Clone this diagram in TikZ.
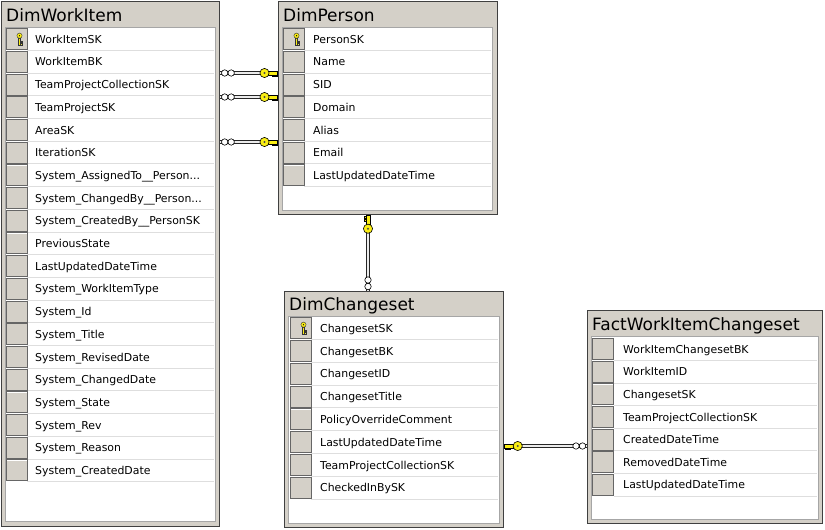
\documentclass[tikz,border=0pt]{standalone}
\usepackage{fontspec}
\setmainfont{DejaVu Sans}
\usepackage{tikz}
\definecolor{winGray}{RGB}{212,208,200}
\definecolor{keyYellow}{RGB}{250,238,20}
\definecolor{sepGray}{RGB}{222,222,222}
\newcommand{\titlefont}{\fontsize{17}{20}\selectfont}
\newcommand{\fieldfont}{\fontsize{10.9}{13}\selectfont}
\tikzset{
  tblframe/.style={rectangle, anchor=north west, inner sep=0pt,
                   draw=black!75, line width=1.2pt, fill=winGray},
  tblbody/.style={rectangle, anchor=north west, inner sep=0pt,
                  draw=gray!70, line width=0.6pt, fill=white},
  tbltitle/.style={anchor=base west, inner sep=0pt, font=\titlefont},
  rowbtn/.style={rectangle, inner sep=0pt, minimum width=21pt, minimum height=21pt,
                 draw=black!60, line width=0.7pt, fill=winGray,
                 path picture={\draw[white, line width=1.6pt]
                   (path picture bounding box.south west) |- (path picture bounding box.north east);}},
  rowtext/.style={anchor=base west, inner sep=0pt, font=\fieldfont},
  rowsep/.style={sepGray, line width=0.8pt},
  relline/.style={draw=black!85, line width=0.8pt, double=gray!15, double distance=2.2pt},
  manyend/.pic={
    \draw[fill=white, line width=0.6pt] (4.5,0) circle[radius=3.2] (11,0) circle[radius=3.2];
  },
  keyend/.pic={
    \filldraw[fill=keyYellow, line width=0.5pt] (0.5,-2) rectangle (9.5,2);
    \filldraw[fill=keyYellow, line width=0.5pt] (1.2,2) rectangle (2.7,3.7) (4.2,2) rectangle (5.7,3.3);
    \filldraw[fill=keyYellow, line width=0.6pt] (13.5,0) circle[radius=4.6];
    \fill[black!70] (13.5,0) circle[radius=1.1];
  },
  pkkey/.pic={
    \filldraw[fill=keyYellow, draw=black!80, line width=0.4pt] (-0.9,-1) rectangle (0.9,6);
    \filldraw[fill=keyYellow, draw=black!80, line width=0.4pt] (0.9,2.4) rectangle (2.4,3.6) (0.9,4.6) rectangle (2.2,5.8);
    \filldraw[fill=keyYellow, draw=black!80, line width=0.4pt] (0,-3.3) circle[radius=2.6];
    \fill[black] (0,-3.3) circle[radius=0.7];
  },
}

\begin{document}
\begin{tikzpicture}[x=1pt, y=-1pt]
  \useasboundingbox (0,0) rectangle (825,530);

  % DimWorkItem
  \node[tblframe, minimum width=218, minimum height=525] (workitem) at (1,1) {};
  \node[tblbody, minimum width=210, minimum height=494] (workitem-body) at (5,27) {};
  \node[tbltitle] (workitem-title) at (6,21.7) {DimWorkItem};
  \foreach \f [count=\i from 0] in {WorkItemSK, WorkItemBK, TeamProjectCollectionSK,
      TeamProjectSK, AreaSK, IterationSK, System\_AssignedTo\_\_Person.{}.{}.,
      System\_ChangedBy\_\_Person.{}.{}., System\_CreatedBy\_\_PersonSK, PreviousState,
      LastUpdatedDateTime, System\_WorkItemType, System\_Id, System\_Title,
      System\_RevisedDate, System\_ChangedDate, System\_State, System\_Rev,
      System\_Reason, System\_CreatedDate} {
    \draw[rowsep] (27,50.3+22.7*\i) -- (214,50.3+22.7*\i);
    \node[rowbtn] (wi-btn-\i) at (16.5,39+22.7*\i) {};
    \node[rowtext] (wi-\i) at (35,43.2+22.7*\i) {\f};
  }
  \pic at ([xshift=3pt]wi-btn-0.center) {pkkey};

  % DimPerson
  \node[tblframe, minimum width=219, minimum height=213] (person) at (278,1) {};
  \node[tblbody, minimum width=210, minimum height=183] (person-body) at (282,27) {};
  \node[tbltitle] (person-title) at (283,21.7) {DimPerson};
  \foreach \f [count=\i from 0] in {PersonSK, Name, SID, Domain, Alias, Email,
      LastUpdatedDateTime} {
    \draw[rowsep] (304,50.3+22.7*\i) -- (491,50.3+22.7*\i);
    \node[rowbtn] (pe-btn-\i) at (293.5,39+22.7*\i) {};
    \node[rowtext] (pe-\i) at (313,43.2+22.7*\i) {\f};
  }
  \pic at ([xshift=3pt]pe-btn-0.center) {pkkey};

  % DimChangeset
  \node[tblframe, minimum width=219, minimum height=236] (changeset) at (284,291) {};
  \node[tblbody, minimum width=211, minimum height=207] (changeset-body) at (288,316) {};
  \node[tbltitle] (changeset-title) at (289,310.5) {DimChangeset};
  \foreach \f [count=\i from 0] in {ChangesetSK, ChangesetBK, ChangesetID, ChangesetTitle,
      PolicyOverrideComment, LastUpdatedDateTime, TeamProjectCollectionSK,
      CheckedInBySK} {
    \draw[rowsep] (311,339.3+22.8*\i) -- (498,339.3+22.8*\i);
    \node[rowbtn] (cs-btn-\i) at (300.5,328+22.8*\i) {};
    \node[rowtext] (cs-\i) at (320,332.2+22.8*\i) {\f};
  }
  \pic at ([xshift=3pt]cs-btn-0.center) {pkkey};

  % FactWorkItemChangeset
  \node[tblframe, minimum width=235, minimum height=213] (fact) at (587,310) {};
  \node[tblbody, minimum width=227, minimum height=183] (fact-body) at (591,336) {};
  \node[tbltitle] (fact-title) at (592,330.5) {FactWorkItemChangeset};
  \foreach \f [count=\i from 0] in {WorkItemChangesetBK, WorkItemID, ChangesetSK,
      TeamProjectCollectionSK, CreatedDateTime, RemovedDateTime,
      LastUpdatedDateTime} {
    \draw[rowsep] (614,360.3+22.6*\i) -- (817,360.3+22.6*\i);
    \node[rowbtn] (fw-btn-\i) at (603,349+22.6*\i) {};
    \node[rowtext] (fw-\i) at (623,353.2+22.6*\i) {\f};
  }

  % relationships
  \foreach \y in {73,97,142} {
    \draw[relline] (workitem.east |- 0,\y) -- (person.west |- 0,\y);
    \pic at (workitem.east |- 0,\y) {manyend};
    \pic[xscale=-1] at (person.west |- 0,\y) {keyend};
  }
  \draw[relline] (person.south -| 368,0) -- (changeset.north -| 368,0);
  \pic[rotate=-90] at (person.south -| 368,0) {keyend};
  \pic[rotate=90] at (changeset.north -| 368,0) {manyend};

  \draw[relline] (changeset.east |- 0,446) -- (fact.west |- 0,446);
  \pic at (changeset.east |- 0,446) {keyend};
  \pic[xscale=-1] at (fact.west |- 0,446) {manyend};
\end{tikzpicture}
\end{document}
